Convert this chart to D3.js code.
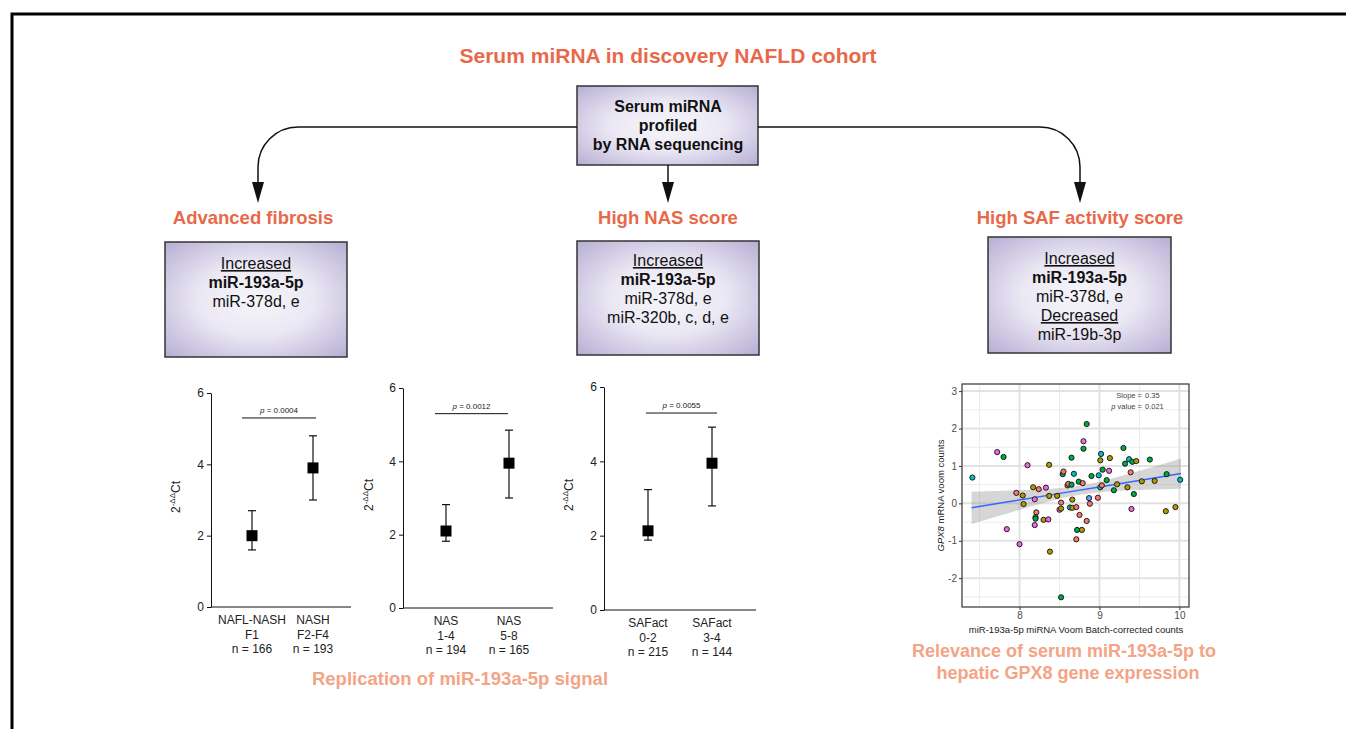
<!DOCTYPE html>
<html>
<head>
<meta charset="utf-8">
<script src="https://cdn.jsdelivr.net/npm/d3@7.9.0/dist/d3.min.js"></script>
<style>
  body { margin: 0; background: #fff; }
  svg { display: block; font-family: "Liberation Sans", Arial, sans-serif; }
</style>
</head>
<body>
<svg id="chart" width="1346" height="729"></svg>
<script>
// ---- data ----
const titleText = "Serum miRNA in discovery NAFLD cohort";
const sourceLines = ["Serum miRNA", "profiled", "by RNA sequencing"];
const headers = ["Advanced fibrosis", "High NAS score", "High SAF activity score"];

// box contents: [text, style]
const fibrosisBox = [["Increased", "u"], ["miR-193a-5p", "b"], ["miR-378d, e", ""]];
const nasBox = [["Increased", "u"], ["miR-193a-5p", "b"], ["miR-378d, e", ""], ["miR-320b, c, d, e", ""]];
const safBox = [["Increased", "u"], ["miR-193a-5p", "b"], ["miR-378d, e", ""], ["Decreased", "u"], ["miR-19b-3p", ""]];

// replication dot plots (2^-ddCt)
const fibrosisLabels = [["NAFL-NASH", "F1", "n = 166"], ["NASH", "F2-F4", "n = 193"]];
const fibrosisMean = [2.0, 3.9];
const fibrosisLow = [1.6, 3.0];
const fibrosisHigh = [2.7, 4.8];
const fibrosisP = "0.0004";

const nasLabels = [["NAS", "1-4", "n = 194"], ["NAS", "5-8", "n = 165"]];
const nasMean = [2.1, 3.95];
const nasLow = [1.82, 3.0];
const nasHigh = [2.82, 4.85];
const nasP = "0.0012";

const safLabels = [["SAFact", "0-2", "n = 215"], ["SAFact", "3-4", "n = 144"]];
const safMean = [2.13, 3.95];
const safLow = [1.88, 2.8];
const safHigh = [3.24, 4.92];
const safP = "0.0055";

const yTicks = [0, 2, 4, 6];
const pBarValue = 5.3;

// scatter: GPX8 vs miR-193a-5p
const scatterX = [7.41, 7.72, 7.80, 7.84, 7.96, 8.00, 8.04, 8.05, 8.10, 8.17, 8.19, 8.19, 8.21, 8.20, 8.20,
  8.24, 8.33, 8.30, 8.36, 8.37, 8.37, 8.38, 8.47, 8.50, 8.52, 8.52, 8.52, 8.54, 8.55, 8.60, 8.61, 8.63,
  8.65, 8.65, 8.66, 8.66, 8.68, 8.71, 8.71, 8.72, 8.74, 8.75, 8.78, 8.79, 8.80, 8.80, 8.84, 8.84, 8.87,
  8.88, 8.90, 8.98, 8.99, 9.01, 9.01, 9.02, 9.03, 9.04, 9.09, 9.12, 9.13, 9.18, 9.22, 9.30, 9.32, 9.35,
  9.37, 9.39, 9.40, 9.41, 9.43, 9.46, 9.53, 9.63, 9.69, 9.83, 9.84, 9.95, 10.01];
const scatterY = [0.69, 1.37, 1.24, -0.69, 0.28, -1.09, 0.21, -0.02, 1.02, 0.43, 0.11, -0.58, -0.24, -0.37, -0.41,
  0.38, 0.42, -0.44, -0.43, 1.03, 0.20, -1.29, 0.20, -0.17, -0.14, 0.02, -2.51, 0.78, 0.85, 0.48, 0.52, -0.11,
  0.50, 1.22, 0.10, -0.12, 0.79, -0.10, -0.96, -0.71, 0.58, -0.31, -0.71, 0.54, 1.46, 1.66, 2.12, -0.47, 0.14,
  -0.01, 0.73, 0.15, 0.75, 1.15, 0.43, 1.32, 0.48, 0.90, 0.62, 0.87, 1.21, 0.35, 0.51, 1.48, 1.06, 0.43,
  1.18, 0.83, -0.15, 1.11, 0.25, 1.13, 0.59, 1.17, 0.60, -0.21, 0.78, -0.10, 0.63];
const scatterGroup = [3, 5, 2, 5, 0, 5, 1, 1, 5, 1, 5, 5, 0, 2, 2,
  0, 5, 1, 5, 1, 1, 1, 1, 5, 1, 0, 2, 2, 0, 1, 0, 3,
  2, 2, 1, 1, 3, 0, 0, 2, 2, 0, 1, 0, 2, 5, 2, 0, 4,
  0, 2, 0, 3, 1, 3, 3, 0, 2, 2, 5, 1, 2, 1, 2, 2, 1,
  3, 0, 5, 2, 2, 1, 1, 2, 1, 1, 2, 1, 3];
const groupColors = ["#F8766D", "#B09A00", "#00A845", "#00BFC4", "#619CFF", "#F564E3"];

// fitted line and confidence band
const fitX = [7.4, 7.8, 8.2, 8.6, 9.0, 9.4, 9.8, 10.02];
const fitY = [-0.12, 0.02, 0.16, 0.30, 0.44, 0.58, 0.72, 0.80];
const fitLo = [-0.55, -0.30, -0.05, 0.17, 0.30, 0.35, 0.38, 0.40];
const fitHi = [0.31, 0.34, 0.37, 0.43, 0.58, 0.81, 1.06, 1.20];
const scatterXTicks = [8, 9, 10];
const scatterYTicks = [-2, -1, 0, 1, 2, 3];

const captions = ["Replication of miR-193a-5p signal", "Relevance of serum miR-193a-5p to", "hepatic GPX8 gene expression"];

// ---- drawing ----
const svg = d3.select("#chart");
const orange = "#e8694a";
const lightOrange = "#f3a486";

svg.append("rect").attr("width", 1346).attr("height", 729).attr("fill", "#fff");
// outer frame
svg.append("rect").attr("x", 12).attr("y", 14).attr("width", 1400).attr("height", 800)
  .attr("fill", "none").attr("stroke", "#000").attr("stroke-width", 3);

const defs = svg.append("defs");
const grad = defs.append("radialGradient").attr("id", "boxGrad")
  .attr("cx", "50%").attr("cy", "50%").attr("r", "70%");
grad.append("stop").attr("offset", "0%").attr("stop-color", "#f6f5fa");
grad.append("stop").attr("offset", "45%").attr("stop-color", "#ebe8f4");
grad.append("stop").attr("offset", "100%").attr("stop-color", "#b7afd4");

// title
svg.append("text").attr("x", 668).attr("y", 63).attr("text-anchor", "middle")
  .attr("font-size", 21).attr("font-weight", "bold").attr("fill", orange).text(titleText);

// source box
svg.append("rect").attr("x", 577).attr("y", 86).attr("width", 181).attr("height", 79)
  .attr("fill", "url(#boxGrad)").attr("stroke", "#333").attr("stroke-width", 1.5);
sourceLines.forEach((t, i) => {
  svg.append("text").attr("x", 668).attr("y", 112 + i * 19).attr("text-anchor", "middle")
    .attr("font-size", 16).attr("font-weight", "bold").attr("fill", "#111").text(t);
});

// connectors
const conn = svg.append("g").attr("fill", "none").attr("stroke", "#111").attr("stroke-width", 1.5);
conn.append("path").attr("d", "M577,127 H298 A40,40 0 0 0 258,167 V185");
conn.append("path").attr("d", "M758,127 H1040 A40,40 0 0 1 1080,167 V185");
conn.append("path").attr("d", "M668,165 V185");
[258, 668, 1080].forEach(x => {
  svg.append("path").attr("d", `M${x - 6},182 L${x + 6},182 L${x},203 Z`).attr("fill", "#111");
});

// headers
[253, 668, 1080].forEach((x, i) => {
  svg.append("text").attr("x", x).attr("y", 224).attr("text-anchor", "middle")
    .attr("font-size", 18.5).attr("font-weight", "bold").attr("fill", orange).text(headers[i]);
});

// result boxes
function drawBox(x, y, w, h, lines, firstY) {
  svg.append("rect").attr("x", x).attr("y", y).attr("width", w).attr("height", h)
    .attr("fill", "url(#boxGrad)").attr("stroke", "#333").attr("stroke-width", 1.5);
  lines.forEach(([t, s], i) => {
    svg.append("text").attr("x", x + w / 2).attr("y", firstY + i * 19)
      .attr("text-anchor", "middle").attr("font-size", 16).attr("fill", "#111")
      .attr("font-weight", s === "b" ? "bold" : "normal")
      .attr("text-decoration", s === "u" ? "underline" : "none")
      .text(t);
  });
}
drawBox(165, 242, 182, 115, fibrosisBox, 269);
drawBox(577, 241, 182, 114, nasBox, 266);
drawBox(988, 237, 183, 116, safBox, 264);

// dot plots
function dotPlot(cfg) {
  const g = svg.append("g");
  const y = d3.scaleLinear().domain([0, 6]).range([cfg.y0, cfg.y6]);
  const x = d3.scalePoint().domain([0, 1]).range([cfg.g1, cfg.g2]);

  const ax = g.append("g").attr("transform", `translate(${cfg.ax},0)`)
    .call(d3.axisLeft(y).tickValues(yTicks).tickFormat(d3.format("d")).tickSize(4).tickSizeOuter(0).tickPadding(3));
  ax.selectAll("text").attr("font-size", 12).attr("fill", "#222")
    .attr("font-family", "Liberation Sans, Arial, sans-serif");
  ax.selectAll("line,path").attr("stroke", "#111");
  g.append("line").attr("x1", cfg.ax).attr("x2", cfg.xEnd).attr("y1", cfg.y0).attr("y2", cfg.y0)
    .attr("stroke", "#111");

  // y label
  const yl = g.append("text").attr("transform", `translate(${cfg.lx},${cfg.ly}) rotate(-90)`)
    .attr("text-anchor", "middle").attr("font-size", 12).attr("fill", "#222");
  yl.append("tspan").text("2");
  yl.append("tspan").attr("dy", -5).attr("font-size", 8).text("-ΔΔ");
  yl.append("tspan").attr("dy", 5).text("Ct");

  // error bars + squares
  cfg.mean.forEach((m, i) => {
    const cx = x(i);
    g.append("line").attr("x1", cx).attr("x2", cx).attr("y1", y(cfg.lo[i])).attr("y2", y(cfg.hi[i]))
      .attr("stroke", "#111").attr("stroke-width", 1.2);
    [cfg.lo[i], cfg.hi[i]].forEach(v => {
      g.append("line").attr("x1", cx - 4).attr("x2", cx + 4).attr("y1", y(v)).attr("y2", y(v))
        .attr("stroke", "#111").attr("stroke-width", 1.2);
    });
    g.append("rect").attr("x", cx - 5.5).attr("y", y(m) - 5.5).attr("width", 11).attr("height", 11)
      .attr("fill", "#000");
    cfg.labels[i].forEach((t, j) => {
      g.append("text").attr("x", cx).attr("y", cfg.y0 + 17 + j * 14.5).attr("text-anchor", "middle")
        .attr("font-size", 12).attr("fill", "#222").text(t);
    });
  });

  // significance bar
  g.append("line").attr("x1", cfg.b1).attr("x2", cfg.b2).attr("y1", y(pBarValue)).attr("y2", y(pBarValue))
    .attr("stroke", "#111");
  const pt = g.append("text").attr("x", (cfg.b1 + cfg.b2) / 2).attr("y", y(pBarValue) - 5)
    .attr("text-anchor", "middle").attr("font-size", 8).attr("fill", "#222");
  pt.append("tspan").attr("font-style", "italic").text("p");
  pt.append("tspan").text(" = " + cfg.p);
}

dotPlot({ ax: 211, y0: 607, y6: 393, xEnd: 351, g1: 252, g2: 313, b1: 242, b2: 316, lx: 180, ly: 497,
  mean: fibrosisMean, lo: fibrosisLow, hi: fibrosisHigh, labels: fibrosisLabels, p: fibrosisP });
dotPlot({ ax: 403, y0: 608, y6: 388, xEnd: 553, g1: 446, g2: 509, b1: 435, b2: 508, lx: 373, ly: 495,
  mean: nasMean, lo: nasLow, hi: nasHigh, labels: nasLabels, p: nasP });
dotPlot({ ax: 604, y0: 610, y6: 387, xEnd: 756, g1: 648, g2: 712, b1: 646, b2: 717, lx: 573, ly: 495,
  mean: safMean, lo: safLow, hi: safHigh, labels: safLabels, p: safP });

// scatter panel
const sp = { left: 962, right: 1189, top: 384, bottom: 607 };
const sx = d3.scaleLinear().domain([7.28, 10.12]).range([sp.left, sp.right]);
const sy = d3.scaleLinear().domain([-2.77, 3.19]).range([sp.bottom, sp.top]);
const sg = svg.append("g");
sg.append("rect").attr("x", sp.left).attr("y", sp.top).attr("width", sp.right - sp.left)
  .attr("height", sp.bottom - sp.top).attr("fill", "#fff");

// grid: minor then major
d3.range(7.5, 10.1, 1).forEach(v => sg.append("line").attr("x1", sx(v)).attr("x2", sx(v))
  .attr("y1", sp.top).attr("y2", sp.bottom).attr("stroke", "#ececec").attr("stroke-width", 1));
d3.range(-2.5, 3.1, 1).forEach(v => sg.append("line").attr("y1", sy(v)).attr("y2", sy(v))
  .attr("x1", sp.left).attr("x2", sp.right).attr("stroke", "#ececec").attr("stroke-width", 1));
scatterXTicks.forEach(v => sg.append("line").attr("x1", sx(v)).attr("x2", sx(v))
  .attr("y1", sp.top).attr("y2", sp.bottom).attr("stroke", "#e2e2e2").attr("stroke-width", 2));
scatterYTicks.forEach(v => sg.append("line").attr("y1", sy(v)).attr("y2", sy(v))
  .attr("x1", sp.left).attr("x2", sp.right).attr("stroke", "#e2e2e2").attr("stroke-width", 2));

// confidence band + fit
const band = d3.area().x((d, i) => sx(fitX[i])).y0((d, i) => sy(fitLo[i])).y1((d, i) => sy(fitHi[i]))
  .curve(d3.curveMonotoneX);
sg.append("path").attr("d", band(fitX)).attr("fill", "#999").attr("opacity", 0.4);
const fit = d3.line().x((d, i) => sx(fitX[i])).y((d, i) => sy(fitY[i]));
sg.append("path").attr("d", fit(fitX)).attr("fill", "none").attr("stroke", "#3366FF").attr("stroke-width", 1.5);

// points
scatterX.forEach((v, i) => {
  sg.append("circle").attr("cx", sx(v)).attr("cy", sy(scatterY[i])).attr("r", 2.6)
    .attr("fill", groupColors[scatterGroup[i]]).attr("stroke", "#111").attr("stroke-width", 0.9);
});

sg.append("rect").attr("x", sp.left).attr("y", sp.top).attr("width", sp.right - sp.left)
  .attr("height", sp.bottom - sp.top).attr("fill", "none").attr("stroke", "#333").attr("stroke-width", 1.2);

const sxa = sg.append("g").attr("transform", `translate(0,${sp.bottom})`)
  .call(d3.axisBottom(sx).tickValues(scatterXTicks).tickFormat(d => String(d)).tickSize(3).tickPadding(2));
const sya = sg.append("g").attr("transform", `translate(${sp.left},0)`)
  .call(d3.axisLeft(sy).tickValues(scatterYTicks).tickFormat(d => String(d)).tickSize(3).tickPadding(2));
[sxa, sya].forEach(a => {
  a.select(".domain").remove();
  a.selectAll("line").attr("stroke", "#333");
  a.selectAll("text").attr("font-size", 10).attr("fill", "#4d4d4d")
    .attr("font-family", "Liberation Sans, Arial, sans-serif");
});

sg.append("text").attr("x", 1076).attr("y", 633).attr("text-anchor", "middle")
  .attr("font-size", 9.5).attr("fill", "#222").text("miR-193a-5p miRNA Voom Batch-corrected counts");
const yt = sg.append("text").attr("transform", `translate(944,${(sp.top + sp.bottom) / 2}) rotate(-90)`)
  .attr("text-anchor", "middle").attr("font-size", 9.5).attr("fill", "#222");
yt.append("tspan").attr("font-style", "italic").text("GPX8");
yt.append("tspan").text(" mRNA voom counts");

// slope annotation
const ann = sg.append("g").attr("font-size", 7.5).attr("fill", "#444");
ann.append("text").attr("x", 1142).attr("y", 398).attr("text-anchor", "end").text("Slope =");
ann.append("text").attr("x", 1145).attr("y", 398).text("0.35");
const pv = ann.append("text").attr("x", 1142).attr("y", 409).attr("text-anchor", "end");
pv.append("tspan").attr("font-style", "italic").text("p");
pv.append("tspan").text(" value =");
ann.append("text").attr("x", 1145).attr("y", 409).text("0.021");

// captions
svg.append("text").attr("x", 460).attr("y", 685).attr("text-anchor", "middle")
  .attr("font-size", 18.5).attr("font-weight", "bold").attr("fill", lightOrange).text(captions[0]);
svg.append("text").attr("x", 1064).attr("y", 657).attr("text-anchor", "middle")
  .attr("font-size", 18).attr("font-weight", "bold").attr("fill", lightOrange).text(captions[1]);
svg.append("text").attr("x", 1068).attr("y", 679).attr("text-anchor", "middle")
  .attr("font-size", 18).attr("font-weight", "bold").attr("fill", lightOrange).text(captions[2]);
</script>
</body>
</html>
